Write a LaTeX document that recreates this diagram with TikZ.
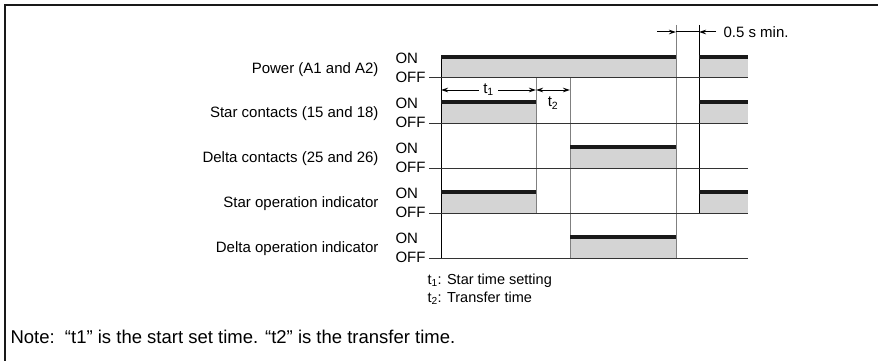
\documentclass[tikz,border=0pt]{standalone}
\usepackage{fontspec}
\setmainfont{Liberation Sans}
\usetikzlibrary{arrows.meta}
\definecolor{sigfill}{HTML}{D4D4D4}
\definecolor{gridgray}{HTML}{808080}
\begin{document}
\begin{tikzpicture}[x=1pt, y=-1pt, >={Stealth[length=7pt, width=4.5pt]}, line width=1pt,
    every node/.style={inner sep=0pt, font=\fontsize{15}{18}\selectfont},
    ontop/.style={line width=3.2pt, black!90},
    offline/.style={black!80},
    rowlabel/.style={anchor=east},
    state/.style={anchor=west},
    small/.style={anchor=west, font=\fontsize{14.5}{17}\selectfont}]
				\useasboundingbox (0,0) rectangle (878,361);
				% 1. 信号区域填充 (最底层)
				\fill[sigfill] (441,57) rectangle (676,78);
				\fill[sigfill] (699,57) rectangle (748,78);
				\fill[sigfill] (441,102) rectangle (536,123);
				\fill[sigfill] (699,102) rectangle (748,123);
				\fill[sigfill] (570,147) rectangle (676,168);
				\fill[sigfill] (441,192) rectangle (536,213);
				\fill[sigfill] (699,192) rectangle (748,213);
				\fill[sigfill] (570,237) rectangle (676,258);
				
				% 2. 时间分界线
				\draw (441,57) -- (441,258);
				\draw[gridgray] (536,78) -- (536,213);
				\draw[gridgray] (570,78) -- (570,258);
				\draw[gridgray] (676,25) -- (676,258);
				\draw (699,25) -- (699,213);
				
				% 3. OFF 基线
				\draw[offline] (429,78) -- (748,78);
				\draw[offline] (429,123) -- (748,123);
				\draw[offline] (429,168) -- (748,168);
				\draw[offline] (429,213) -- (748,213);
				\draw[offline] (429,258) -- (748,258);
				
				% 4. ON 电平
				\draw[ontop] (441,57) -- (676,57);
				\draw[ontop] (699,57) -- (748,57);
				\draw[ontop] (441,102) -- (536,102);
				\draw[ontop] (699,102) -- (748,102);
				\draw[ontop] (570,147) -- (676,147);
				\draw[ontop] (441,192) -- (536,192);
				\draw[ontop] (699,192) -- (748,192);
				\draw[ontop] (570,237) -- (676,237);
				
				% 5. 尺寸标注
				\draw[<->] (441,90) -- (536,90) node[midway, fill=white, inner xsep=4pt] (t1) {t\textsubscript{1}};
				\draw[<->] (536,90) -- (570,90);
				\node (t2) at (553,103) {t\textsubscript{2}};
				\draw[->] (657,32) -- (676,32);
				\draw (676,32) -- (699,32);
				\draw[->] (716,32) -- (699,32);
				\node[state] (gap) at (723,32) {0.5 s min.};
				
				% 6. 标号
				\node[rowlabel] (power) at (379,70) {Power (A1 and A2)};
				\node[rowlabel] (starc) at (379,114) {Star contacts (15 and 18)};
				\node[rowlabel] (deltac) at (379,159) {Delta contacts (25 and 26)};
				\node[rowlabel] (starind) at (379,204) {Star operation indicator};
				\node[rowlabel] (deltaind) at (379,249) {Delta operation indicator};
				\node[state] (on1) at (395,58) {ON};
				\node[state] (off1) at (395,77) {OFF};
				\node[state] (on2) at (395,103) {ON};
				\node[state] (off2) at (395,122) {OFF};
				\node[state] (on3) at (395,148) {ON};
				\node[state] (off3) at (395,167) {OFF};
				\node[state] (on4) at (395,193) {ON};
				\node[state] (off4) at (395,212) {OFF};
				\node[state] (on5) at (395,238) {ON};
				\node[state] (off5) at (395,257) {OFF};
				
				\node[small] (leg1) at (427,281) {t\textsubscript{1}: Star time setting};
				\node[small] (leg2) at (427,298) {t\textsubscript{2}: Transfer time};
				\node[anchor=west, font=\fontsize{18.5}{22}\selectfont] (note) at (10,337) {Note:\ \ “t1” is the start set time. “t2” is the transfer time.};
				
				% 7. 外框
				\draw[line width=2.6pt, black!90] (5,361) -- (5,5) -- (878,5);
\end{tikzpicture}
\end{document}
